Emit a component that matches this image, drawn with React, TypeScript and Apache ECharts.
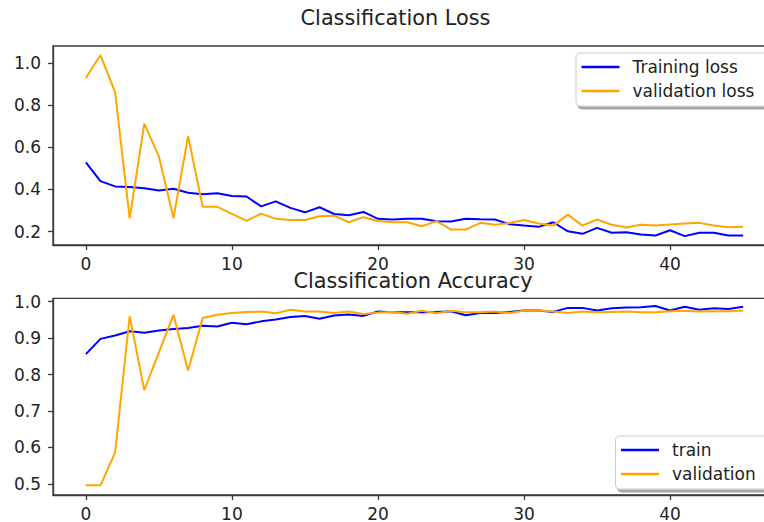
import React, { useEffect, useRef } from "react";
import * as echarts from "echarts";

const epochs = [0,1,2,3,4,5,6,7,8,9,10,11,12,13,14,15,16,17,18,19,20,21,22,23,24,25,26,27,28,29,30,31,32,33,34,35,36,37,38,39,40,41,42,43,44,45];

const trainingLoss = [0.528,0.439,0.414,0.411,0.405,0.395,0.403,0.384,0.377,0.381,0.368,0.366,0.319,0.343,0.312,0.291,0.315,0.283,0.277,0.293,0.260,0.257,0.260,0.261,0.249,0.247,0.261,0.258,0.257,0.235,0.228,0.222,0.244,0.201,0.189,0.217,0.194,0.196,0.186,0.181,0.206,0.178,0.194,0.194,0.181,0.181];
const validationLoss = [0.928,1.037,0.861,0.262,0.712,0.556,0.264,0.653,0.317,0.317,0.284,0.250,0.285,0.260,0.255,0.255,0.272,0.275,0.244,0.268,0.250,0.244,0.244,0.225,0.249,0.209,0.209,0.241,0.232,0.240,0.255,0.238,0.228,0.280,0.228,0.257,0.232,0.219,0.232,0.228,0.233,0.238,0.241,0.228,0.220,0.222];

const trainAcc = [0.856,0.898,0.907,0.919,0.915,0.921,0.925,0.928,0.934,0.932,0.942,0.938,0.946,0.951,0.958,0.961,0.953,0.962,0.965,0.961,0.973,0.971,0.971,0.971,0.972,0.974,0.963,0.969,0.969,0.972,0.976,0.976,0.972,0.983,0.983,0.976,0.982,0.984,0.985,0.988,0.976,0.986,0.978,0.982,0.980,0.986];
const validationAcc = [0.496,0.496,0.586,0.960,0.757,0.861,0.964,0.811,0.955,0.964,0.969,0.972,0.973,0.968,0.978,0.973,0.973,0.969,0.973,0.966,0.970,0.972,0.967,0.975,0.968,0.975,0.971,0.971,0.973,0.969,0.975,0.976,0.973,0.969,0.973,0.971,0.972,0.973,0.971,0.971,0.974,0.975,0.973,0.974,0.974,0.976];

const xTicks = [0, 10, 20, 30, 40];
const lossTicks = [0.2, 0.4, 0.6, 0.8, 1.0];
const accTicks = [0.5, 0.6, 0.7, 0.8, 0.9, 1.0];

const FONT = "DejaVu Sans";
const TEXT = "#222";
const SPINE = "#3a3a3a";
const BLUE = "#0000ff";
const ORANGE = "#ffa500";

function pairs(ys: number[]) {
  return epochs.map((e, i) => [e, ys[i]]);
}

function xAxis(gridIndex: number) {
  return {
    type: "value",
    gridIndex,
    min: -2.25,
    max: 47.25,
    splitLine: { show: false },
    axisLine: { show: true, onZero: false, lineStyle: { color: SPINE, width: 1.3 } },
    axisTick: { show: true, length: 5, customValues: xTicks, lineStyle: { color: SPINE, width: 1.3 } },
    axisLabel: {
      customValues: xTicks,
      margin: 10,
      fontSize: 17,
      fontFamily: FONT,
      color: TEXT,
      formatter: (v: number) => String(v),
    },
  };
}

function yAxis(gridIndex: number, min: number, max: number, ticks: number[]) {
  return {
    type: "value",
    gridIndex,
    min,
    max,
    splitLine: { show: false },
    axisLine: { show: true, onZero: false, lineStyle: { color: SPINE, width: 1.3 } },
    axisTick: { show: true, length: 5, customValues: ticks, lineStyle: { color: SPINE, width: 1.3 } },
    axisLabel: {
      customValues: ticks,
      margin: 12,
      fontSize: 17,
      fontFamily: FONT,
      color: TEXT,
      formatter: (v: number) => v.toFixed(1),
    },
  };
}

function legend(names: string[], left: number, top: number) {
  return {
    data: names,
    orient: "vertical",
    left,
    top,
    padding: [2, 14, 3, 5.5],
    itemGap: 0,
    itemWidth: 38,
    itemHeight: 2.5,
    icon: "rect",
    backgroundColor: "#ffffff",
    borderColor: "#cccccc",
    borderWidth: 1,
    borderRadius: 4,
    shadowColor: "rgba(0,0,0,0.35)",
    shadowBlur: 1,
    shadowOffsetX: 2,
    shadowOffsetY: 3,
    textStyle: {
      fontSize: 17,
      fontFamily: FONT,
      color: TEXT,
      lineHeight: 24,
      padding: [0, 0, 0, 8],
    },
  };
}

export default function App() {
  const ref = useRef<HTMLDivElement>(null);
  useEffect(() => {
    if (!ref.current) return;
    const chart = echarts.init(ref.current, undefined, { renderer: "svg" });
    chart.setOption({
      animation: false,
      backgroundColor: "#ffffff",
      title: [
        {
          text: "Classification Loss",
          left: 395.5,
          top: 7,
          padding: 0,
          textAlign: "center",
          textStyle: { fontSize: 20.8, fontWeight: "normal", fontFamily: FONT, color: TEXT },
        },
        {
          text: "Classification Accuracy",
          left: 413,
          top: 270,
          padding: 0,
          textAlign: "center",
          textStyle: { fontSize: 20.8, fontWeight: "normal", fontFamily: FONT, color: TEXT },
        },
      ],
      grid: [
        { left: 53, top: 46, width: 723, height: 199, show: true, borderColor: SPINE, borderWidth: 1.3, backgroundColor: "transparent" },
        { left: 53, top: 298.3, width: 723, height: 199.7, show: true, borderColor: SPINE, borderWidth: 1.3, backgroundColor: "transparent" },
      ],
      xAxis: [xAxis(0), xAxis(1)],
      yAxis: [yAxis(0, 0.136, 1.08, lossTicks), yAxis(1, 0.4695, 1.0093, accTicks)],
      legend: [
        legend(["Training loss", "validation loss"], 576, 53),
        legend(["train", "validation"], 615.5, 436),
      ],
      series: [
        { name: "Training loss", type: "line", xAxisIndex: 0, yAxisIndex: 0, data: pairs(trainingLoss), showSymbol: false, color: BLUE, lineStyle: { width: 2, color: BLUE } },
        { name: "validation loss", type: "line", xAxisIndex: 0, yAxisIndex: 0, data: pairs(validationLoss), showSymbol: false, color: ORANGE, lineStyle: { width: 2, color: ORANGE } },
        { name: "train", type: "line", xAxisIndex: 1, yAxisIndex: 1, data: pairs(trainAcc), showSymbol: false, color: BLUE, lineStyle: { width: 2, color: BLUE } },
        { name: "validation", type: "line", xAxisIndex: 1, yAxisIndex: 1, data: pairs(validationAcc), showSymbol: false, color: ORANGE, lineStyle: { width: 2, color: ORANGE } },
      ],
    });
    return () => chart.dispose();
  }, []);
  return (
    <div style={{ position: "fixed", left: 0, top: 0, width: 764, height: 522, overflow: "hidden", background: "#fff" }}>
      <div ref={ref} style={{ width: 776, height: 522 }} />
    </div>
  );
}
